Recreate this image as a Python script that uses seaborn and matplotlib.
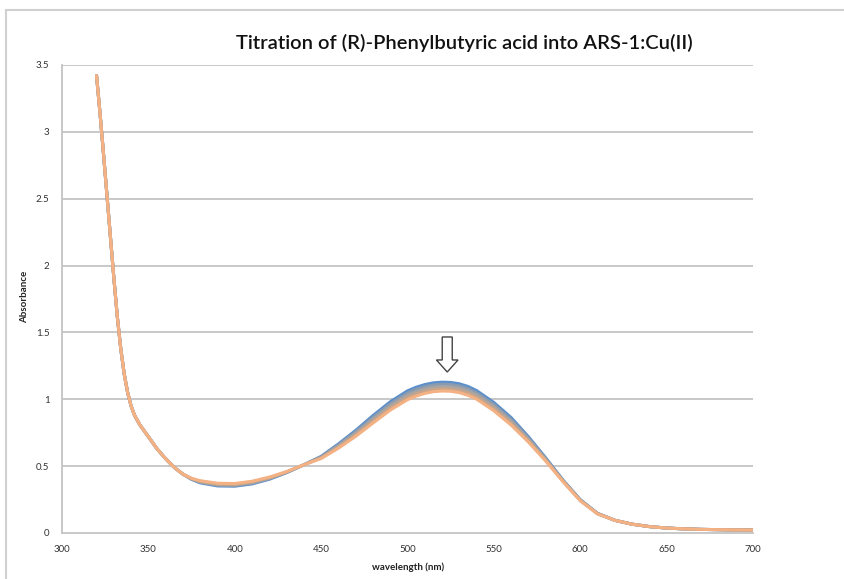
import numpy as np
import pandas as pd
import matplotlib
matplotlib.use("Agg")
import matplotlib.pyplot as plt
import seaborn as sns
from matplotlib.lines import Line2D
from matplotlib.patches import FancyArrow

wavelength = [320, 322, 324, 326, 328, 330, 332, 334, 336, 338, 340, 342, 345, 350, 355,
              360, 365, 370, 375, 380, 390, 400, 410, 420, 430, 440, 450, 460, 470, 480,
              490, 500, 505, 510, 515, 520, 525, 530, 535, 540, 550, 560, 570, 580, 590,
              600, 610, 620, 630, 640, 650, 660, 670, 680, 690, 700]

steep = [3.42, 3.14, 2.84, 2.53, 2.22, 1.91, 1.62, 1.38, 1.19, 1.05, 0.95, 0.88, 0.81, 0.72, 0.63,
         0.555, 0.49, 0.44]
tail = [0.095, 0.066, 0.048, 0.037, 0.031, 0.027, 0.025, 0.023, 0.022]

abs_1 = steep + [0.401, 0.375, 0.352, 0.350, 0.367, 0.402, 0.451, 0.510, 0.573, 0.666, 0.767, 0.878,
                 0.981, 1.063, 1.090, 1.110, 1.123, 1.128, 1.126, 1.116, 1.096, 1.065, 0.976, 0.863,
                 0.720, 0.562, 0.396, 0.249, 0.147] + tail
abs_2 = steep + [0.403, 0.379, 0.357, 0.355, 0.372, 0.406, 0.453, 0.510, 0.569, 0.658, 0.756, 0.864,
                 0.966, 1.047, 1.074, 1.094, 1.107, 1.112, 1.110, 1.100, 1.080, 1.049, 0.961, 0.849,
                 0.710, 0.556, 0.393, 0.247, 0.146] + tail
abs_3 = steep + [0.405, 0.383, 0.362, 0.360, 0.377, 0.410, 0.455, 0.510, 0.565, 0.650, 0.745, 0.850,
                 0.950, 1.030, 1.057, 1.077, 1.090, 1.095, 1.093, 1.083, 1.063, 1.033, 0.945, 0.835,
                 0.700, 0.550, 0.390, 0.245, 0.145] + tail
abs_4 = steep + [0.407, 0.387, 0.367, 0.365, 0.382, 0.414, 0.457, 0.510, 0.561, 0.642, 0.734, 0.836,
                 0.935, 1.014, 1.041, 1.061, 1.074, 1.079, 1.077, 1.067, 1.047, 1.017, 0.930, 0.821,
                 0.690, 0.544, 0.387, 0.243, 0.144] + tail
abs_5 = steep + [0.409, 0.391, 0.372, 0.370, 0.387, 0.418, 0.459, 0.510, 0.557, 0.634, 0.723, 0.822,
                 0.919, 0.997, 1.024, 1.044, 1.057, 1.062, 1.060, 1.050, 1.030, 1.001, 0.914, 0.807,
                 0.680, 0.538, 0.384, 0.241, 0.143] + tail

series_names = ["s1", "s2", "s3", "s4", "s5"]
series_vals = [abs_1, abs_2, abs_3, abs_4, abs_5]
colors = ["#5B8FCB", "#8A9BB0", "#A5A5A5", "#C8A48A", "#F4B183"]

x_ticks = [300, 350, 400, 450, 500, 550, 600, 650, 700]
y_ticks = [0, 0.5, 1, 1.5, 2, 2.5, 3, 3.5]
y_tick_labels = ["0", "0.5", "1", "1.5", "2", "2.5", "3", "3.5"]

df = pd.concat([pd.DataFrame({"wavelength": wavelength, "absorbance": v, "series": n})
                for n, v in zip(series_names, series_vals)], ignore_index=True)

sns.set_theme(style="white")
plt.rcParams["font.family"] = ["Lato", "DejaVu Sans"]

W, H = 844, 579
fig = plt.figure(figsize=(W / 100, H / 100), dpi=100)
ax = fig.add_axes([62 / W, (H - 533) / H, (753 - 62) / W, (533 - 65) / H])

grid_c = "#C4C4C4"
for yv in y_ticks[1:]:
    ax.axhline(yv, color=grid_c, lw=1.3, zorder=0)

sns.lineplot(data=df, x="wavelength", y="absorbance", hue="series", palette=colors,
             sort=False, legend=False, linewidth=2.2, ax=ax, zorder=3)

ax.set_xlim(300, 700)
ax.set_ylim(0, 3.5)
ax.set_xticks(x_ticks)
ax.set_xticklabels([str(t) for t in x_ticks])
ax.set_yticks(y_ticks)
ax.set_yticklabels(y_tick_labels)
ax.tick_params(axis="both", which="major", labelsize=7, colors="#333333", length=4,
               width=1.0, direction="out", pad=5)
ax.tick_params(axis="both", color=grid_c)
for side in ["top", "right"]:
    ax.spines[side].set_visible(False)
for side in ["left", "bottom"]:
    ax.spines[side].set_color(grid_c)
    ax.spines[side].set_linewidth(1.3)
ax.set_xlabel("")
ax.set_ylabel("")

arrow = FancyArrow(523, 1.466, 0, -0.262, width=5.8, head_width=12.5, head_length=0.09,
                   length_includes_head=True, facecolor="white", edgecolor="#444444",
                   linewidth=1.0, zorder=5)
ax.add_patch(arrow)

fig.text(464 / W, 1 - 43 / H, "Titration of (R)-Phenylbutyric acid into ARS-1:Cu(II)",
         ha="center", va="center", fontsize=14.5, fontweight="semibold", color="#111111")
fig.text(408 / W, 1 - 567 / H, "wavelength (nm)", ha="center", va="center",
         fontsize=7, fontweight="bold", color="#222222")
fig.text(25 / W, 1 - 297 / H, "Absorbance", ha="center", va="center", rotation=90,
         fontsize=7, fontweight="bold", color="#222222")

frame_c = "#D0D0D0"
fig.add_artist(Line2D([6 / W, 1.0], [1 - 10 / H, 1 - 10 / H], color=frame_c, lw=1.5,
                      transform=fig.transFigure))
fig.add_artist(Line2D([6 / W, 6 / W], [0, 1 - 10 / H], color=frame_c, lw=1.5,
                      transform=fig.transFigure))

fig.savefig("out.png", dpi=100)
